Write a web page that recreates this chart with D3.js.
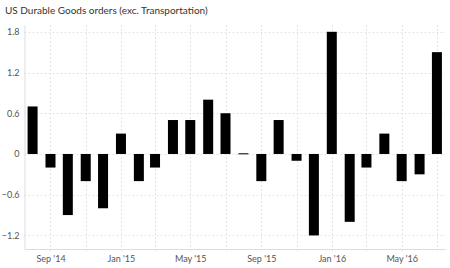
<!DOCTYPE html>
<html>
<head>
<meta charset="utf-8">
<script src="https://cdn.jsdelivr.net/npm/d3@7"></script>
<style>
  body { margin: 0; background: #fff; }
  text { font-family: Lato, sans-serif; }
</style>
</head>
<body>
<svg id="chart"></svg>
<script>
const width = 450;
const height = 268;
const margin = {top: 25, right: 5, bottom: 19, left: 24.5};

const title = 'US Durable Goods orders (exc. Transportation)';

// monthly change, Aug 2014 .. Jul 2016
const months = ['2014-08', '2014-09', '2014-10', '2014-11', '2014-12',
    '2015-01', '2015-02', '2015-03', '2015-04', '2015-05', '2015-06', '2015-07',
    '2015-08', '2015-09', '2015-10', '2015-11', '2015-12',
    '2016-01', '2016-02', '2016-03', '2016-04', '2016-05', '2016-06', '2016-07'];
const values = [0.7, -0.2, -0.9, -0.4, -0.8,
    0.3, -0.4, -0.2, 0.5, 0.5, 0.8, 0.6,
    0.01, -0.4, 0.5, -0.1, -1.2,
    1.8, -1.0, -0.2, 0.3, -0.4, -0.3, 1.5];
const yTicks = [-1.2, -0.6, 0, 0.6, 1.2, 1.8];

const parse = d3.timeParse('%Y-%m');
const data = months.map((m, i) => ({date: parse(m), value: values[i]}));

const svg = d3.select('#chart')
    .attr('width', width)
    .attr('height', height);

const x = d3.scaleTime()
    .domain([new Date(2014, 6, 18), new Date(2016, 6, 15)])
    .range([margin.left, width - margin.right]);
const y = d3.scaleLinear()
    .domain([-1.4, 1.9])
    .range([height - margin.bottom, margin.top]);

svg.append('text')
    .attr('x', 5)
    .attr('y', 14)
    .attr('font-size', 10)
    .attr('fill', '#333')
    .text(title);

// grid
const gridTicks = d3.timeMonth.every(2).range(new Date(2014, 8, 1), new Date(2016, 7, 2));
svg.append('g')
    .selectAll('line').data(gridTicks)
    .join('line')
    .attr('x1', d => Math.round(x(d)) + 0.5)
    .attr('x2', d => Math.round(x(d)) + 0.5)
    .attr('y1', margin.top)
    .attr('y2', height - margin.bottom + 3)
    .attr('stroke', '#e4e4e4')
    .attr('stroke-dasharray', '2,2');

svg.append('g')
    .selectAll('line').data(yTicks)
    .join('line')
    .attr('x1', margin.left)
    .attr('x2', width - margin.right)
    .attr('y1', d => Math.round(y(d)) + 0.5)
    .attr('y2', d => Math.round(y(d)) + 0.5)
    .attr('stroke', '#e4e4e4')
    .attr('stroke-dasharray', '2,2');

// bars
const barW = 10;
svg.append('g')
    .selectAll('rect').data(data)
    .join('rect')
    .attr('x', d => x(d.date) - barW / 2)
    .attr('width', barW)
    .attr('y', d => y(Math.max(0, d.value)))
    .attr('height', d => Math.max(1, Math.abs(y(d.value) - y(0))))
    .attr('fill', '#000');

// axes
const xAxis = svg.append('g')
    .attr('transform', `translate(0, ${height - margin.bottom})`)
    .call(d3.axisBottom(x)
        .tickValues(d3.timeMonth.every(4).range(new Date(2014, 8, 1), new Date(2016, 6, 1)))
        .tickFormat(d3.timeFormat("%b '%y"))
        .tickSize(0)
        .tickPadding(7));
xAxis.select('.domain').attr('stroke', '#ddd');
xAxis.selectAll('text').attr('font-size', 9).attr('fill', '#555').attr('font-family', 'Lato, sans-serif');

const yAxis = svg.append('g')
    .attr('transform', `translate(${margin.left}, 0)`)
    .call(d3.axisLeft(y)
        .tickValues(yTicks)
        .tickFormat(d => d === 0 ? '0' : d3.format('.1f')(d))
        .tickSize(0)
        .tickPadding(5));
yAxis.select('.domain').attr('stroke', '#ddd');
yAxis.selectAll('text').attr('font-size', 9).attr('fill', '#555').attr('font-family', 'Lato, sans-serif');
</script>
</body>
</html>
